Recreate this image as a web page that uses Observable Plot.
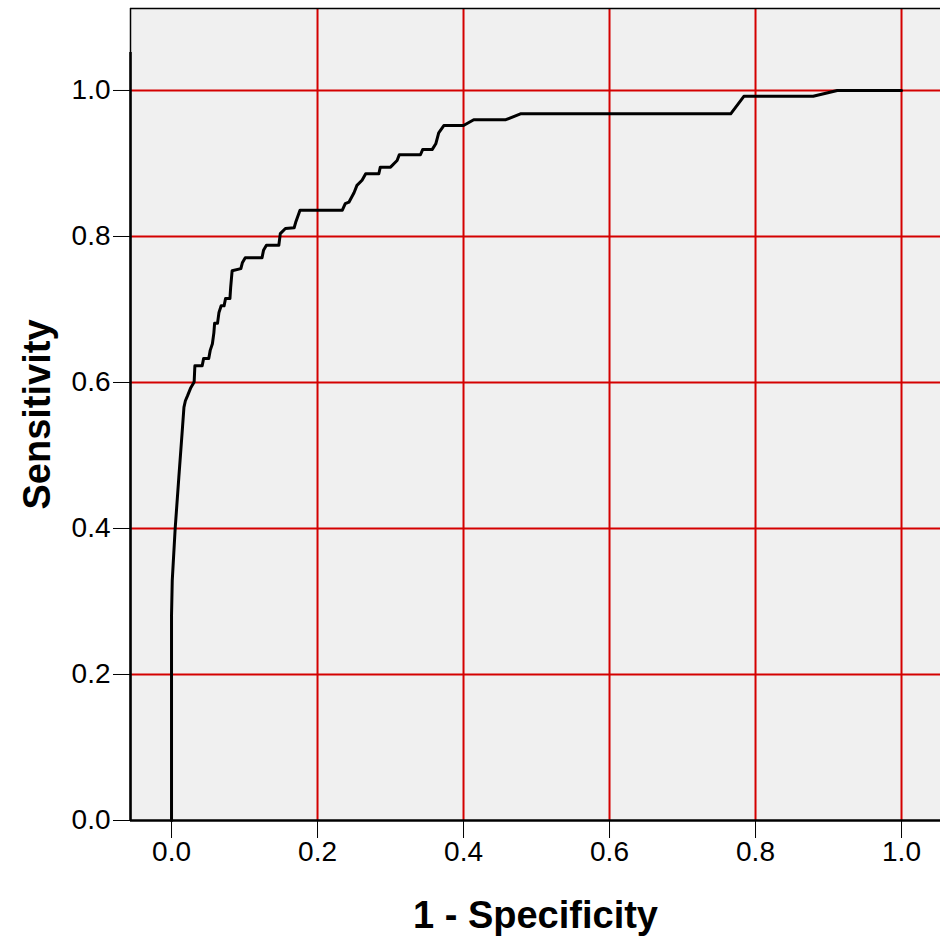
<!DOCTYPE html>
<html>
<head>
<meta charset="utf-8">
<script src="https://cdn.jsdelivr.net/npm/d3@7"></script>
<script src="https://cdn.jsdelivr.net/npm/@observablehq/plot@0.6"></script>
<style>
  html, body { margin: 0; padding: 0; background: #ffffff; }
  #chart svg { display: block; }
</style>
</head>
<body>
<div id="chart"></div>
<script>
// ROC curve values
const fpr = [0, 0, 0.001, 0.005, 0.010, 0.015, 0.017, 0.019, 0.022, 0.026, 0.030, 0.031, 0.032, 0.042, 0.044, 0.051,
  0.053, 0.056, 0.058, 0.059, 0.063, 0.065, 0.068, 0.072, 0.074, 0.080, 0.081, 0.083, 0.095, 0.097, 0.101, 0.124,
  0.126, 0.130, 0.147, 0.149, 0.156, 0.168, 0.170, 0.176, 0.234, 0.238, 0.243, 0.250, 0.254, 0.261, 0.266, 0.284,
  0.286, 0.300, 0.309, 0.312, 0.341, 0.344, 0.357, 0.362, 0.366, 0.373, 0.400, 0.414, 0.458, 0.478, 0.766, 0.784,
  0.879, 0.912, 1.000];
const sensitivity = [0, 0.281, 0.329, 0.400, 0.470, 0.538, 0.566, 0.575, 0.582, 0.592, 0.599, 0.601, 0.623, 0.623, 0.633, 0.633,
  0.644, 0.653, 0.668, 0.681, 0.681, 0.696, 0.705, 0.705, 0.715, 0.715, 0.730, 0.753, 0.756, 0.764, 0.771, 0.771,
  0.781, 0.788, 0.788, 0.804, 0.811, 0.812, 0.819, 0.836, 0.836, 0.845, 0.847, 0.860, 0.870, 0.877, 0.886, 0.886,
  0.895, 0.895, 0.904, 0.912, 0.912, 0.919, 0.919, 0.927, 0.942, 0.952, 0.952, 0.960, 0.960, 0.968, 0.968, 0.992,
  0.992, 1.000, 1.000];
const xTicks = [0, 0.2, 0.4, 0.6, 0.8, 1.0];
const yTicks = [0, 0.2, 0.4, 0.6, 0.8, 1.0];
const xGrid = [0.2, 0.4, 0.6, 0.8, 1.0];
const yGrid = [0.2, 0.4, 0.6, 0.8, 1.0];
const xTitle = "1 - Specificity";
const yTitle = "Sensitivity";

const xDomain = [-0.0562, 1.0534];
const yDomain = [0, 1.1123];
const yAxisTop = 1.052;

const roc = fpr.map((x, i) => ({x, y: sensitivity[i]}));
const red = "#d40000";

const chart = Plot.plot({
  width: 940,
  height: 936,
  marginLeft: 130,
  marginRight: 0,
  marginTop: 8,
  marginBottom: 116,
  style: {fontFamily: "'Liberation Sans', Arial, sans-serif", fontSize: "28px", color: "black", background: "white"},
  x: {domain: xDomain, axis: null},
  y: {domain: yDomain, axis: null},
  marks: [
    Plot.frame({fill: "#f0f0f0", stroke: "none"}),
    Plot.ruleX(xGrid, {stroke: red, strokeWidth: 2}),
    Plot.ruleY(yGrid, {stroke: red, strokeWidth: 2}),
    Plot.ruleY([yDomain[1]], {stroke: "black", strokeWidth: 1.5}),
    Plot.ruleX([xDomain[0]], {y1: 0, y2: yDomain[1], stroke: "black", strokeWidth: 1.5}),
    Plot.ruleX([xDomain[0]], {y1: 0, y2: yAxisTop, stroke: "black", strokeWidth: 2.5}),
    Plot.ruleY([0], {stroke: "black", strokeWidth: 2.5}),
    Plot.line(roc, {x: "x", y: "y", stroke: "black", strokeWidth: 3}),
    Plot.axisX({ticks: xTicks, tickSize: 18, label: null}),
    Plot.axisY({ticks: yTicks, tickSize: 17, label: null}),
    Plot.text([xTitle], {frameAnchor: "bottom", lineAnchor: "bottom", dy: 107, fontSize: 38, fontWeight: "bold", fill: "black"}),
    Plot.text([yTitle], {frameAnchor: "left", textAnchor: "middle", lineAnchor: "bottom", rotate: -90, dx: -81, fontSize: 38, fontWeight: "bold", fill: "black"})
  ]
});
document.getElementById("chart").appendChild(chart);
</script>
</body>
</html>
